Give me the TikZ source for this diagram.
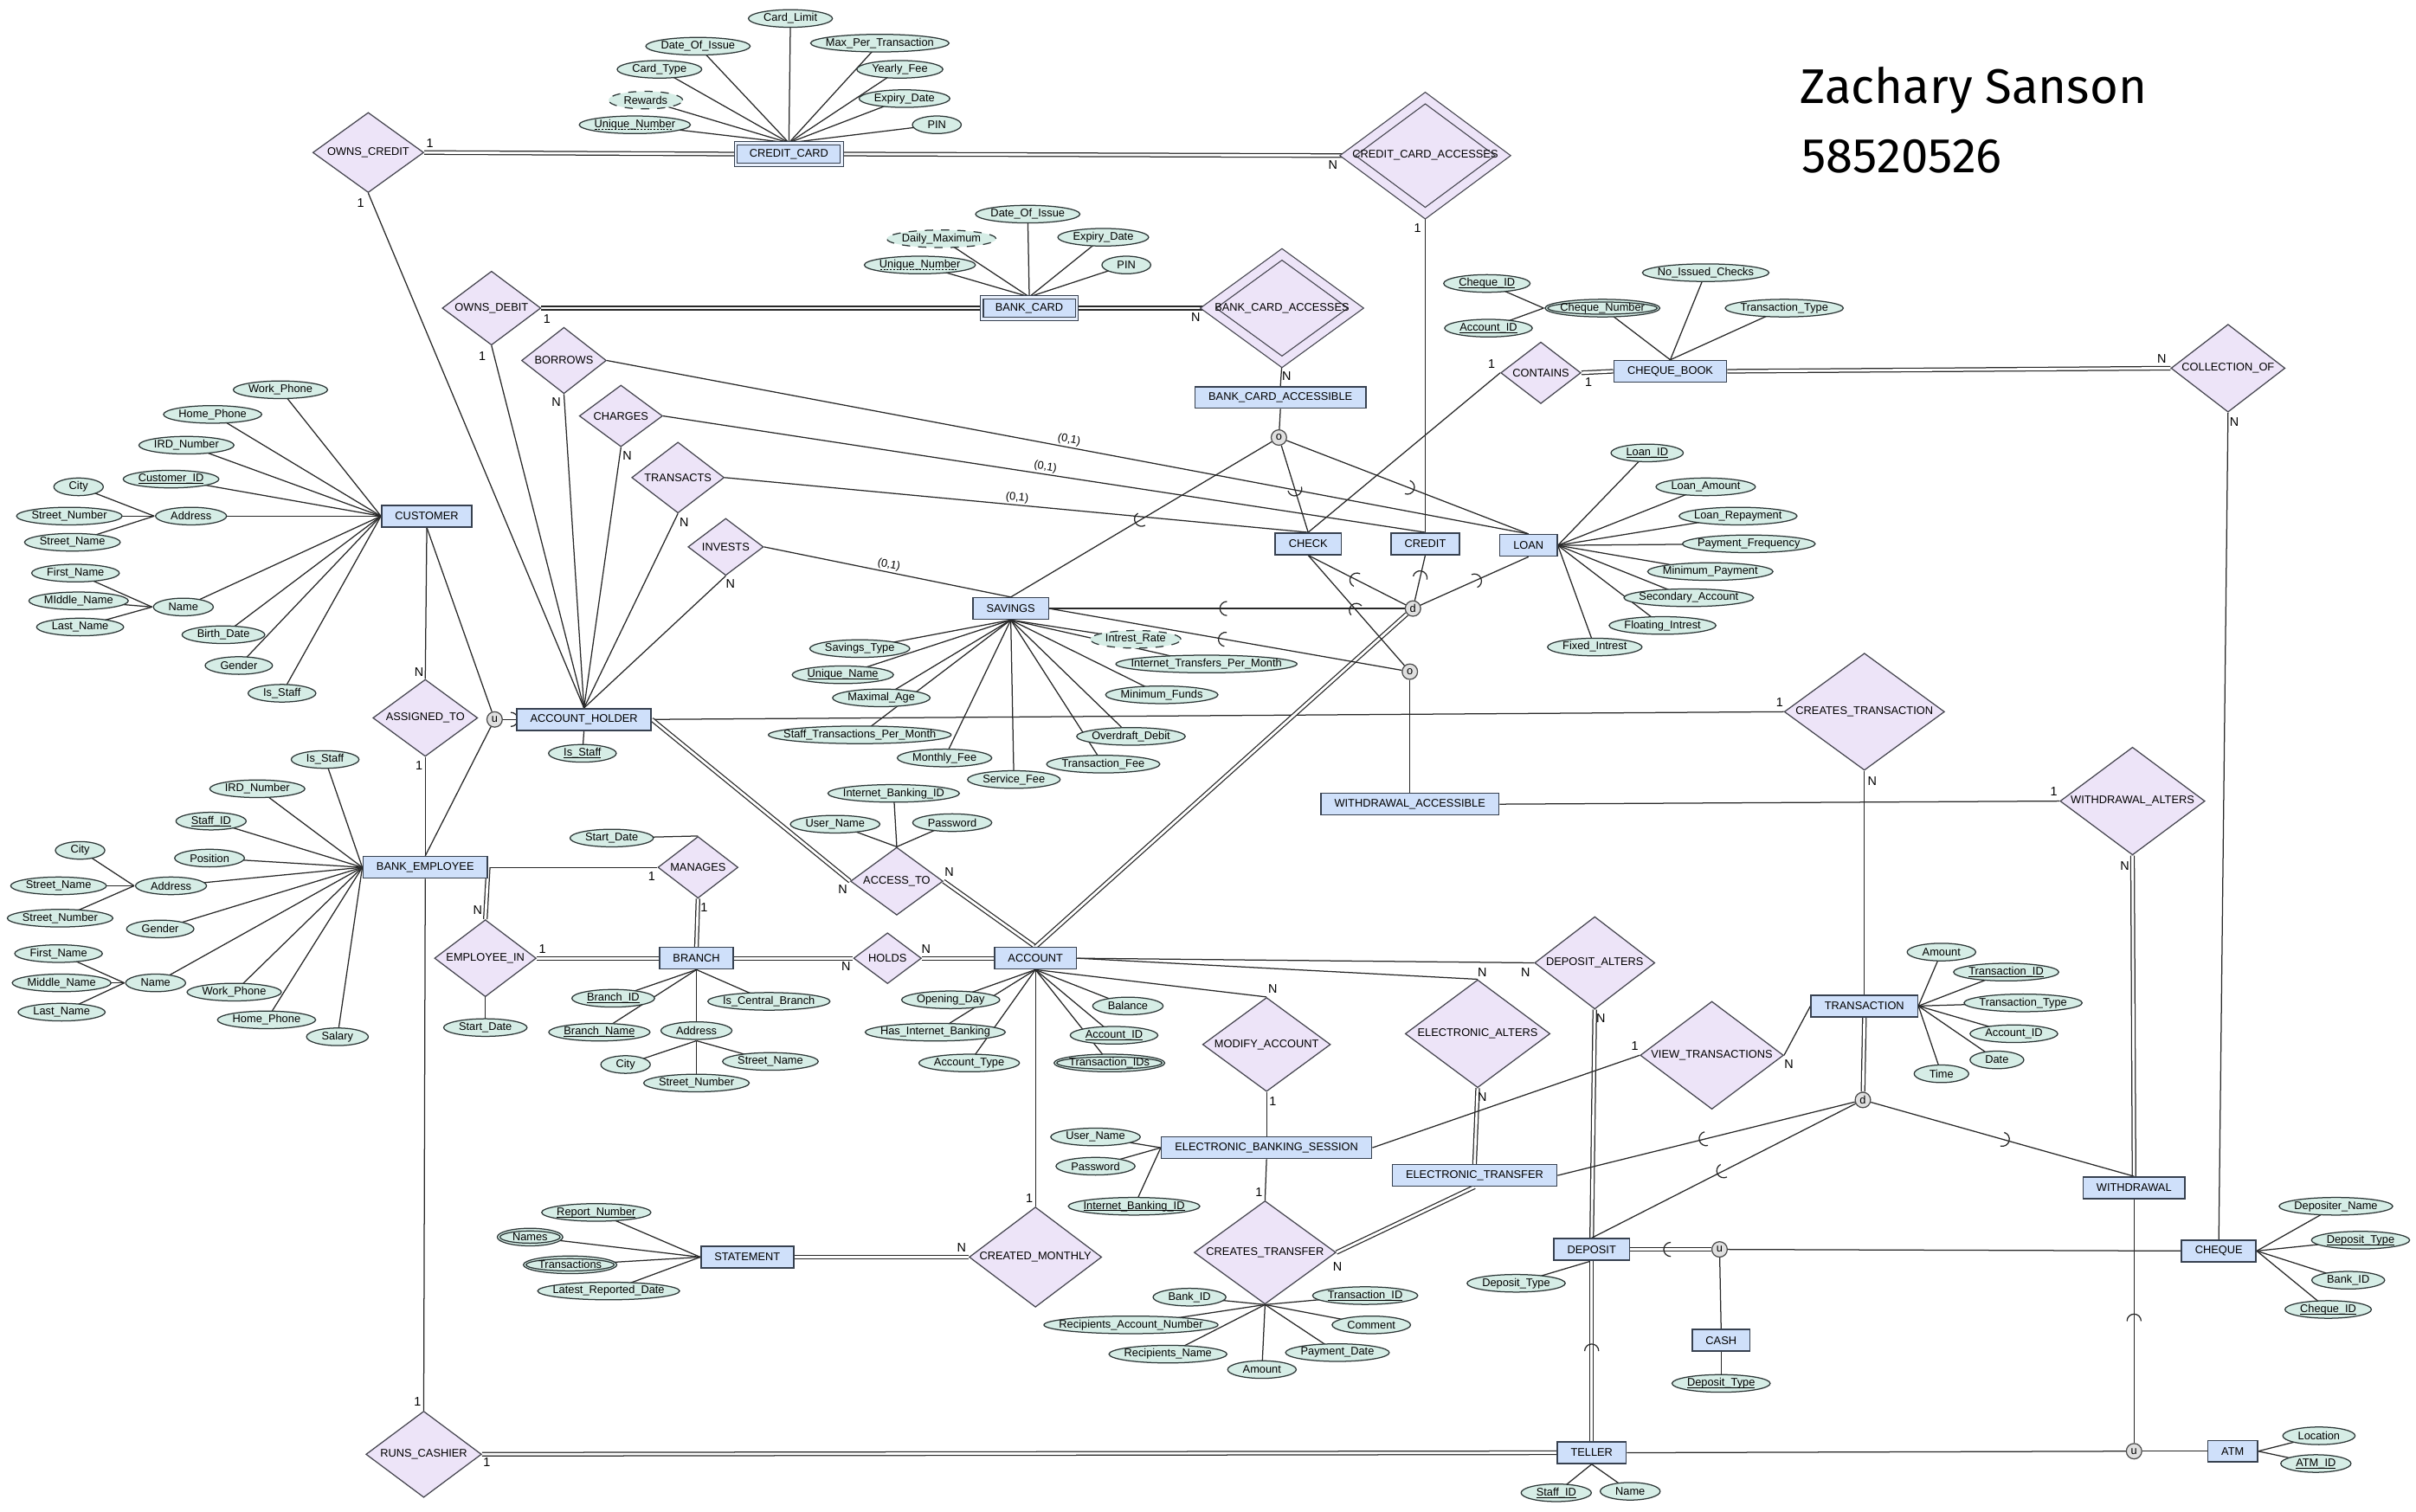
\documentclass[tikz,border=0pt]{standalone}
\usepackage{fontspec}
\setmainfont{Liberation Sans}
\newfontfamily\handfont{Fira Sans}
\usetikzlibrary{shapes.geometric,calc,backgrounds,decorations.markings}

\definecolor{entfill}{RGB}{207,224,250}
\definecolor{entline}{RGB}{55,65,80}
\definecolor{relfill}{RGB}{237,228,248}
\definecolor{relline}{RGB}{70,70,80}
\definecolor{attrfill}{RGB}{214,237,230}
\definecolor{attrline}{RGB}{45,55,55}
\definecolor{wire}{RGB}{40,40,40}

\newcommand\erfont{\fontsize{4.1}{5}\selectfont}
\newcommand\keyline[1]{\setbox0=\hbox{#1}\leavevmode\rlap{\lower.75pt\hbox{\vrule width \wd0 height .3pt depth 0pt}}\box0}
\newcommand\dashkey[1]{\setbox0=\hbox{#1}\leavevmode\rlap{\lower.75pt\hbox to \wd0{\leaders\hbox to 1.2pt{\hss\vrule width .7pt height .3pt\hss}\hfill}}\box0}
\newcommand\ovalpath[2]{%
    \path[draw=attrline, fill=attrfill, line width=.4pt, #1]
        let \p1=(path picture bounding box.south west), \p2=(path picture bounding box.north east)
        in (path picture bounding box.center) ellipse [x radius={.5*\x2-.5*\x1-#2}, y radius={.5*\y2-.5*\y1-#2}];}

\tikzset{
    ent/.style={rectangle, draw=entline, fill=entfill, line width=.5pt, inner xsep=5pt, inner ysep=0pt, minimum height=.28cm, font=\erfont},
    weakent/.style={ent, line width=.35pt, double=entfill!50!white, double distance=.8pt},
    rel/.style={diamond, draw=relline, fill=relfill, line width=.4pt, inner sep=0pt, font=\erfont,
        execute at begin node={\hbox to 0pt\bgroup\hss}, execute at end node={\hss\egroup}},
    weakrel/.style={rel, double=relfill, double distance=3pt},
    dsize/.style 2 args={minimum width=#1*.02cm, minimum height=#2*.02cm},
    attrbox/.style={rectangle, inner xsep=5.9pt, inner ysep=0pt, minimum height=7.1pt, font=\erfont},
    attr/.style={attrbox, path picture={\ovalpath{}{.3pt}}},
    derived/.style={attrbox, path picture={\ovalpath{dashed}{.3pt}}},
    multi/.style={attrbox, path picture={\ovalpath{}{.3pt}\ovalpath{fill=none}{1.3pt}}},
    gen/.style={circle, draw=black!70, fill=black!12, line width=.4pt, minimum size=.2cm, inner sep=0pt, font=\erfont},
    rl/.style={draw=wire, line width=.4pt},
    tot/.style={rl, double=white, double distance=.9pt},
    card/.style={font=\fontsize{4.6}{5}\selectfont, inner sep=0pt},
    zo/.style={font=\erfont, sloped, above, inner sep=.6pt, pos=.5},
    subset/.style={postaction={decorate, decoration={markings, mark=at position #1 with
        {\draw[wire, line width=.4pt] (0,2.6pt) arc [start angle=90, end angle=-90, radius=2.6pt];}}}}
}

\begin{document}
\begin{tikzpicture}[x=0.02cm, y=-0.02cm]
    \useasboundingbox (0,0) rectangle (1568,981);
    \foreach \nm/\x/\y/\lbl in {cust/277/335/CUSTOMER, ah/379/467/ACCOUNT\_HOLDER, be/276/563/BANK\_EMPLOYEE,
        br/452/622/BRANCH, acct/672/622/ACCOUNT, sav/656/395/SAVINGS, check/849/353/CHECK, credit/925/353/CREDIT,
        loan/992/354/LOAN, bcacc/831/258/BANK\_CARD\_ACCESSIBLE, cb/1084/241/CHEQUE\_BOOK,
        wacc/915/522/WITHDRAWAL\_ACCESSIBLE, tr/1210/653/TRANSACTION, ebs/822/745/ELECTRONIC\_BANKING\_SESSION,
        et/957/763/ELECTRONIC\_TRANSFER, stm/485/816/STATEMENT, dep/1033/811/DEPOSIT, wdr/1385/771/WITHDRAWAL,
        chq/1440/812/CHEQUE, cash/1117/870/CASH, tel/1033/943/TELLER, atm/1449/942/ATM}
        \node[ent] (\nm) at (\x,\y) {\lbl};
    \node[weakent] (cc) at (512,100) {CREDIT\_CARD};
    \node[weakent] (bc) at (668,200) {BANK\_CARD};

    \foreach \nm/\x/\y/\w/\h/\lbl in {owncr/239/99/72/52/OWNS\_CREDIT, owndb/319/200/64/48/OWNS\_DEBIT,
        borrows/366/234/55/43/BORROWS, charges/403/270/54/40/CHARGES, transacts/440/310/60/46/TRANSACTS,
        invests/471/355/49/37/INVESTS, contains/1000/242/52/40/CONTAINS, collof/1446/239/74/57/COLLECTION\_OF,
        assigned/276/466/68/50/ASSIGNED\_TO, manages/453/563/52/40/MANAGES, empin/315/622/66/50/EMPLOYEE\_IN,
        holds/576/622/44/33/HOLDS, accessto/582/572/60/44/ACCESS\_TO, crtrans/1210/462/104/76/CREATES\_TRANSACTION,
        walt/1384/520/94/70/WITHDRAWAL\_ALTERS, depalt/1035/625/78/60/DEPOSIT\_ALTERS,
        elalt/959/671/94/70/ELECTRONIC\_ALTERS, modacc/822/678/83/61/MODIFY\_ACCOUNT,
        viewtr/1111/685/93/70/VIEW\_TRANSACTIONS, crmonth/672/816/86/65/CREATED\_MONTHLY,
        crtransfer/821/813/92/67/CREATES\_TRANSFER, runscash/275/944/75/56/RUNS\_CASHIER}
        \node[rel, dsize={\w}{\h}] (\nm) at (\x,\y) {\lbl};
    \node[weakrel, dsize={101}{75}] (cca) at (925,101) {CREDIT\_CARD\_ACCESSES};
    \node[weakrel, dsize={96}{70}] (bca) at (832,200) {BANK\_CARD\_ACCESSES};

    \foreach \nm/\x/\y/\lbl in {o1/830/284/o, d1/917/395/d, o2/915/436/o, u1/321/467/u, d2/1209/714/d,
        u2/1116/811/u, u3/1385/942/u}
        \node[gen] (\nm) at (\x,\y) {\lbl};

    \foreach \nm/\x/\y/\lbl in {
        ccLimit/513/12/Card\_Limit, ccIssue/453/30/Date\_Of\_Issue, ccMax/571/28/Max\_Per\_Transaction,
        ccType/428/45/Card\_Type, ccFee/584/45/Yearly\_Fee, ccExp/587/64/Expiry\_Date,
        ccNum/412/81/\dashkey{Unique\_Number}, ccPin/608/81/PIN,
        bcIssue/667/139/Date\_Of\_Issue, bcExp/716/154/Expiry\_Date, bcNum/597/172/\dashkey{Unique\_Number},
        bcPin/731/172/PIN,
        cuWork/182/253/Work\_Phone, cuHome/138/269/Home\_Phone, cuIrd/121/289/IRD\_Number,
        cuId/111/311/\keyline{Customer\_ID}, cuAddr/124/335/Address, cuName/119/394/Name,
        cuBirth/145/412/Birth\_Date, cuGender/155/432/Gender, cuStaff/183/450/Is\_Staff,
        cuCity/51/316/City, cuStNum/45/335/Street\_Number, cuStName/47/352/Street\_Name,
        cuFirst/49/372/First\_Name, cuMid/51/390/MIddle\_Name, cuLast/52/407/Last\_Name,
        ahStaff/378/489/\keyline{Is\_Staff},
        beStaff/211/493/Is\_Staff, beIrd/167/512/IRD\_Number, beId/137/533/\keyline{Staff\_ID},
        bePos/136/557/Position, beAddr/111/575/Address, beGender/104/603/Gender, beName/101/638/Name,
        beWork/152/644/Work\_Phone, beHome/173/662/Home\_Phone, beSal/219/673/Salary,
        beCity/52/552/City, beStName/38/575/Street\_Name, beStNum/39/596/Street\_Number,
        beFirst/38/619/First\_Name, beMid/40/638/Middle\_Name, beLast/40/657/Last\_Name,
        mgStart/397/544/Start\_Date, eiStart/315/667/Start\_Date,
        brId/398/648/\keyline{Branch\_ID}, brCen/499/650/Is\_Central\_Branch, brName/389/670/\keyline{Branch\_Name},
        brAddr/452/669/Address, brCity/406/691/City, brStName/500/689/Street\_Name,
        brStNum/452/703/Street\_Number,
        atIbid/580/515/Internet\_Banking\_ID, atUser/542/535/User\_Name, atPass/618/534/Password,
        acOpen/617/649/Opening\_Day, acBal/732/653/Balance, acHas/607/670/Has\_Internet\_Banking,
        acId/723/672/\keyline{Account\_ID}, acType/629/690/Account\_Type,
        svType/558/421/Savings\_Type, svName/547/438/\keyline{Unique\_Name},
        svNet/783/431/Internet\_Transfers\_Per\_Month, svAge/572/453/Maximal\_Age, svMin/754/451/Minimum\_Funds,
        svStaff/558/477/Staff\_Transactions\_Per\_Month, svOver/734/478/Overdraft\_Debit,
        svMonth/613/492/Monthly\_Fee, svTfee/716/496/Transaction\_Fee, svSfee/658/506/Service\_Fee,
        lnId/1069/294/\keyline{Loan\_ID}, lnAmt/1107/316/Loan\_Amount, lnRep/1128/335/Loan\_Repayment,
        lnFreq/1135/353/Payment\_Frequency, lnMin/1110/371/Minimum\_Payment, lnSec/1096/388/Secondary\_Account,
        lnFloat/1079/406/Floating\_Intrest, lnFix/1035/420/Fixed\_Intrest,
        cbIssued/1107/177/No\_Issued\_Checks, cbType/1158/200/Transaction\_Type,
        cbCid/965/184/\keyline{Cheque\_ID}, cbAid/966/213/\keyline{Account\_ID},
        trAmt/1260/618/Amount, trId/1302/631/\keyline{Transaction\_ID}, trType/1313/651/Transaction\_Type,
        trAid/1307/671/Account\_ID, trDate/1296/688/Date, trTime/1260/697/Time,
        ebUser/711/738/User\_Name, ebPass/711/757/Password, ebIbid/736/783/\keyline{Internet\_Banking\_ID},
        stRep/387/787/\keyline{Report\_Number}, stLatest/395/838/Latest\_Reported\_Date,
        tfBank/772/842/Bank\_ID, tfTid/886/841/\keyline{Transaction\_ID}, tfAcc/734/860/Recipients\_Account\_Number,
        tfCom/890/860/Comment, tfName/758/879/Recipients\_Name, tfPay/868/878/Payment\_Date, tfAmt/819/889/Amount,
        dpType/984/833/Deposit\_Type, chType/1117/898/\keyline{Deposit\_Type},
        cqName/1516/783/Depositer\_Name, cqType/1532/805/\keyline{Deposit\_Type}, cqBank/1524/831/Bank\_ID,
        cqId/1511/850/\keyline{Cheque\_ID},
        tlId/1010/969/\keyline{Staff\_ID}, tlName/1058/968/Name,
        atmLoc/1505/932/Location, atmId/1503/950/\keyline{ATM\_ID}}
        \node[attr] (\nm) at (\x,\y) {\lbl};
    \node[derived] (ccRew) at (419,65) {Rewards};
    \node[derived] (bcMax) at (611,155) {Daily\_Maximum};
    \node[derived] (svRate) at (737,415) {Intrest\_Rate};
    \node[multi] (acTids) at (720,690) {Transaction\_IDs};
    \node[multi] (cbNum) at (1040,200) {Cheque\_Number};
    \node[multi] (stNames) at (344,803) {Names};
    \node[multi] (stTrans) at (370,821) {Transactions};

    \foreach \lbl/\x/\y [count=\i] in {1/279/93, N/865/107, 1/234/132, 1/920/148, 1/355/207, 1/313/231, N/776/206,
        N/835/244, N/361/261, N/407/296, N/444/339, N/474/379, N/272/436, 1/272/497, 1/1155/456, N/547/577,
        N/616/566, 1/423/569, 1/457/589, N/310/591, 1/352/616, N/549/627, N/601/616, N/826/642, N/962/631,
        N/990/631, N/1039/661, 1/826/715, N/962/712, 1/1061/679, N/1161/691, N/1215/507, 1/1333/514,
        N/1379/562, 1/271/910, 1/316/949, N/624/810, 1/668/778, 1/817/774, N/868/822, 1/968/236, 1/1031/248,
        N/1403/233, N/1450/274}
        \node[card] (card\i) at (\x,\y) {\lbl};

    \node[anchor=base west, inner sep=0pt, font=\handfont\fontsize{18}{20}\selectfont] (author) at (1168,67) {Zachary Sanson};
    \node[anchor=base west, inner sep=0pt, font=\handfont\fontsize{18}{20}\selectfont] (studentno) at (1169,112) {58520526};

    \begin{pgfonlayer}{background}
        \fill[white] (0,0) rectangle (1568,981);
        \foreach \a in {ccLimit,ccIssue,ccMax,ccType,ccFee,ccRew,ccExp,ccNum,ccPin} \draw[rl] (\a.center) -- (cc.north);
        \foreach \a in {bcIssue,bcMax,bcExp,bcNum,bcPin} \draw[rl] (\a.center) -- (bc.north);
        \foreach \a in {cuWork,cuHome,cuIrd,cuId,cuAddr,cuName,cuBirth,cuGender,cuStaff} \draw[rl] (\a.center) -- (cust.west);
        \foreach \a in {cuCity,cuStNum,cuStName} \draw[rl] (\a.center) -- (cuAddr.west);
        \foreach \a in {cuFirst,cuMid,cuLast} \draw[rl] (\a.center) -- (cuName.west);
        \draw[rl] (ahStaff.center) -- (ah.south);
        \foreach \a in {beStaff,beIrd,beId,bePos,beAddr,beGender,beName,beWork,beHome,beSal} \draw[rl] (\a.center) -- (be.west);
        \foreach \a in {beCity,beStName,beStNum} \draw[rl] (\a.center) -- (beAddr.west);
        \foreach \a in {beFirst,beMid,beLast} \draw[rl] (\a.center) -- (beName.west);
        \draw[rl] (mgStart.center) -- (manages.north);
        \draw[rl] (eiStart.center) -- (empin.south);
        \foreach \a in {brId,brCen,brName,brAddr} \draw[rl] (\a.center) -- (br.south);
        \foreach \a in {brCity,brStName,brStNum} \draw[rl] (\a.center) -- (brAddr.south);
        \foreach \a in {atIbid,atUser,atPass} \draw[rl] (\a.center) -- (accessto.north);
        \foreach \a in {acOpen,acBal,acHas,acId,acType,acTids} \draw[rl] (\a.center) -- (acct.south);
        \foreach \a in {svType,svRate,svName,svNet,svAge,svMin,svStaff,svOver,svMonth,svTfee,svSfee} \draw[rl] (\a.center) -- (sav.south);
        \foreach \a in {lnId,lnAmt,lnRep,lnFreq,lnMin,lnSec,lnFloat,lnFix} \draw[rl] (\a.center) -- (loan.east);
        \foreach \a in {cbNum,cbIssued,cbType} \draw[rl] (\a.center) -- (cb.north);
        \foreach \a in {cbCid,cbAid} \draw[rl] (\a.center) -- (cbNum.west);
        \foreach \a in {trAmt,trId,trType,trAid,trDate,trTime} \draw[rl] (\a.center) -- (tr.east);
        \foreach \a in {ebUser,ebPass,ebIbid} \draw[rl] (\a.center) -- (ebs.west);
        \foreach \a in {stRep,stNames,stTrans,stLatest} \draw[rl] (\a.center) -- (stm.west);
        \foreach \a in {tfBank,tfTid,tfAcc,tfCom,tfName,tfPay,tfAmt} \draw[rl] (\a.center) -- (crtransfer.south);
        \draw[rl] (dpType.center) -- (dep.south);
        \draw[rl] (chType.center) -- (cash.south);
        \foreach \a in {cqName,cqType,cqBank,cqId} \draw[rl] (\a.center) -- (chq.east);
        \foreach \a in {tlId,tlName} \draw[rl] (\a.center) -- (tel.south);
        \foreach \a in {atmLoc,atmId} \draw[rl] (\a.center) -- (atm.east);

        \draw[tot] (owncr.east) -- (cc.west);
        \draw[tot] (cc.east) -- (cca.west);
        \draw[rl] (owncr.south) -- (ah.north);
        \draw[rl] (cca.south) -- (credit.north);
        \draw[tot] (owndb.east) -- (bc.west);
        \draw[tot] (bc.east) -- (bca.west);
        \draw[rl] (owndb.south) -- (ah.north);
        \draw[rl] (bca.south) -- (bcacc.north);
        \draw[rl] (bcacc.south) -- (o1);
        \foreach \r in {borrows,charges,transacts,invests} \draw[rl] (\r.south) -- (ah.north);
        \draw[rl] (borrows.east) -- node[zo] (zo1) {(0,1)} (loan.north);
        \draw[rl] (charges.east) -- node[zo] (zo2) {(0,1)} (credit.north);
        \draw[rl] (transacts.east) -- node[zo] (zo3) {(0,1)} (check.north);
        \draw[rl] (invests.east) -- node[zo] (zo4) {(0,1)} (sav.north);
        \draw[rl] (cust.south) -- (assigned.north);
        \draw[rl] (assigned.south) -- (be.north);
        \draw[rl] (cust.south) -- (u1);
        \draw[rl] (be.north) -- (u1);
        \draw[rl, subset=.6] (u1) -- (ah.west);
        \draw[rl] (ah.east) -- (crtrans.west);
        \draw[tot] (ah.east) -- (accessto.west);
        \draw[tot] (accessto.east) -- (acct.north);
        \draw[rl] (be.east) -- (manages.west);
        \draw[tot] (manages.south) -- (br.north);
        \draw[tot] (be.east) -- (empin.north);
        \draw[tot] (empin.east) -- (br.west);
        \draw[tot] (br.east) -- (holds.west);
        \draw[tot] (holds.east) -- (acct.west);
        \draw[tot] (d1) -- (acct.north);
        \draw[rl] (acct.east) -- (depalt.west);
        \draw[rl] (acct.east) -- (elalt.north);
        \draw[rl] (acct.south) -- (modacc.north);
        \draw[rl] (acct.south) -- (crmonth.north);
        \draw[rl] (modacc.south) -- (ebs.north);
        \draw[rl] (ebs.south) -- (crtransfer.north);
        \draw[tot] (crtransfer.east) -- (et.south);
        \draw[tot] (elalt.south) -- (et.north);
        \draw[tot] (depalt.south) -- (dep.north);
        \draw[rl] (ebs.east) -- (viewtr.west);
        \draw[rl] (viewtr.east) -- (tr.west);
        \draw[rl] (crtrans.south) -- (tr.north);
        \draw[rl] (wacc.east) -- (walt.west);
        \draw[tot] (walt.south) -- (wdr.north);
        \draw[tot] (stm.east) -- (crmonth.west);
        \draw[rl] (be.south) -- (runscash.north);
        \draw[tot] (runscash.east) -- (tel.west);
        \draw[rl] (check.north) -- (contains.west);
        \draw[tot] (contains.east) -- (cb.west);
        \draw[tot] (cb.east) -- (collof.west);
        \draw[rl] (collof.south) -- (chq.north);

        \foreach \s in {sav,check,loan} \draw[rl, subset=.5] (o1) -- (\s.north);
        \foreach \s in {check,credit,loan} \draw[rl, subset=.5] (d1) -- (\s.south);
        \draw[rl, subset=.5] (d1) -- (sav.east);
        \draw[rl, subset=.5] (o2) -- (check.south);
        \draw[rl, subset=.5] (o2) -- (sav.east);
        \draw[rl] (o2) -- (wacc.north);
        \draw[tot] (tr.south) -- (d2);
        \foreach \s/\at in {et/east,dep/north,wdr/north} \draw[rl, subset=.5] (d2) -- (\s.\at);
        \draw[tot] (dep.east) -- (u2);
        \path[subset=.5] (u2) -- (dep.east);
        \draw[rl] (u2) -- (chq.west);
        \draw[rl] (u2) -- (cash.north);
        \draw[tot] (dep.south) -- (tel.north);
        \path[subset=.5] (tel.north) -- (dep.south);
        \draw[rl] (tel.east) -- (u3);
        \draw[rl] (atm.west) -- (u3);
        \draw[rl, subset=.5] (u3) -- (wdr.south);
    \end{pgfonlayer}
\end{tikzpicture}
\end{document}
